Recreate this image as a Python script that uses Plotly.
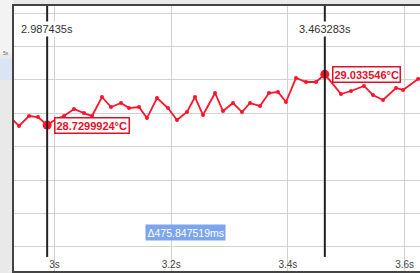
import plotly.graph_objects as go

# ---- data ----
times = [2.9237, 2.9392, 2.9563, 2.9717, 2.987435, 3.0026, 3.0163, 3.0334, 3.0506, 3.0643,
         3.0814, 3.0968, 3.1140, 3.1277, 3.1448, 3.1585, 3.1757, 3.1945, 3.2099, 3.2271,
         3.2408, 3.2545, 3.2751, 3.2888, 3.3059, 3.3213, 3.3351, 3.3522, 3.3676, 3.3830,
         3.3967, 3.4139, 3.4310, 3.4482, 3.463283, 3.4910, 3.5081, 3.5304, 3.5458, 3.5630,
         3.5853, 3.5973, 3.6230, 3.6367]
temps = [28.778, 28.725, 28.784, 28.778, 28.7299924, 28.766, 28.784, 28.826, 28.802, 28.784,
         28.898, 28.838, 28.862, 28.832, 28.838, 28.772, 28.892, 28.832, 28.760, 28.808,
         28.898, 28.790, 28.922, 28.814, 28.862, 28.808, 28.862, 28.844, 28.922, 28.928,
         28.868, 29.012, 28.988, 28.988, 29.033546, 28.916, 28.934, 28.964, 28.910, 28.880,
         28.952, 28.940, 29.006, 29.018]

cursor_times = [2.987435, 3.463283]
cursor_temps = [28.7299924, 29.033546]
cursor_time_labels = ["2.987435s", "3.463283s"]
cursor_temp_labels = ["28.7299924°C", "29.033546°C"]
delta_label = "Δ475.847519ms"

tick_vals = [3.0, 3.2, 3.4, 3.6]
tick_text = ["3s", "3.2s", "3.4s", "3.6s"]

RED = "#ff1428"
FONT = "Liberation Sans, Arial, sans-serif"

fig = go.Figure()
fig.add_trace(go.Scatter(
    x=times, y=temps, mode="lines+markers",
    line=dict(color=RED, width=1.8),
    marker=dict(color=RED, size=4),
    hoverinfo="skip", showlegend=False,
))
fig.add_trace(go.Scatter(
    x=cursor_times, y=cursor_temps, mode="markers",
    marker=dict(color=RED, size=9),
    hoverinfo="skip", showlegend=False,
))

shapes = []
# background bits of the surrounding app (left strip)
shapes.append(dict(type="rect", xref="paper", yref="paper", x0=-0.04, x1=0, y0=0.82, y1=1.03,
                   fillcolor="#f3f3f3", line=dict(width=0), layer="below"))
shapes.append(dict(type="rect", xref="paper", yref="paper", x0=-0.04, x1=0, y0=0.72, y1=0.80,
                   fillcolor="#d9e5f4", line=dict(width=0), layer="below"))
for t in cursor_times:
    shapes.append(dict(type="line", xref="x", yref="paper", x0=t, x1=t, y0=0.053, y1=1,
                       line=dict(color="#222222", width=2), layer="above"))

annotations = []
for t, lab in zip(cursor_times, cursor_time_labels):
    annotations.append(dict(x=t, y=0.915, xref="x", yref="paper", text=lab, showarrow=False,
                            font=dict(family=FONT, size=11, color="#333333"),
                            bgcolor="white", xanchor="center", yanchor="middle", borderpad=1))
for t, v, lab in zip(cursor_times, cursor_temps, cursor_temp_labels):
    annotations.append(dict(x=t, y=v, xref="x", yref="y", text="<b>" + lab + "</b>", showarrow=False,
                            font=dict(family=FONT, size=11, color="#e0102a"),
                            bgcolor="white", bordercolor="#e0102a", borderwidth=1.5, borderpad=1,
                            xanchor="left", yanchor="middle", xshift=7))
annotations.append(dict(x=(cursor_times[0] + cursor_times[1]) / 2, y=0.147, xref="x", yref="paper",
                        text=delta_label, showarrow=False,
                        font=dict(family=FONT, size=10.5, color="white"),
                        bgcolor="#7ca5ee", borderpad=1.5, xanchor="center", yanchor="middle"))
annotations.append(dict(x=-0.02, y=0.84, xref="paper", yref="paper", text="5s", showarrow=False,
                        font=dict(family=FONT, size=5, color="#666"), xanchor="center"))

fig.update_layout(
    width=420, height=273,
    margin=dict(l=14, r=0, t=6, b=2),
    paper_bgcolor="#e9e9e9",
    plot_bgcolor="white",
    shapes=shapes,
    annotations=annotations,
    font=dict(family=FONT),
)
fig.update_xaxes(
    range=[2.9306, 3.6264],
    tickvals=tick_vals, ticktext=tick_text,
    ticklabelposition="inside",
    tickfont=dict(family=FONT, size=10, color="#444444"),
    showgrid=True, gridcolor="#d2d2d2", gridwidth=1,
    showline=True, linecolor="#444444", linewidth=1.5, mirror=True,
    zeroline=False, ticks="", automargin=False,
)
fig.update_yaxes(
    range=[27.856, 29.443],
    dtick=0.2, tick0=29.0,
    showticklabels=False,
    showgrid=True, gridcolor="#d2d2d2", gridwidth=1,
    showline=True, linecolor="#444444", linewidth=1.5, mirror=False,
    zeroline=False, ticks="", automargin=False,
)

fig.write_html("out.html", config={"displayModeBar": False},
               post_script="document.body.style.margin='0';document.body.style.overflow='hidden';")
